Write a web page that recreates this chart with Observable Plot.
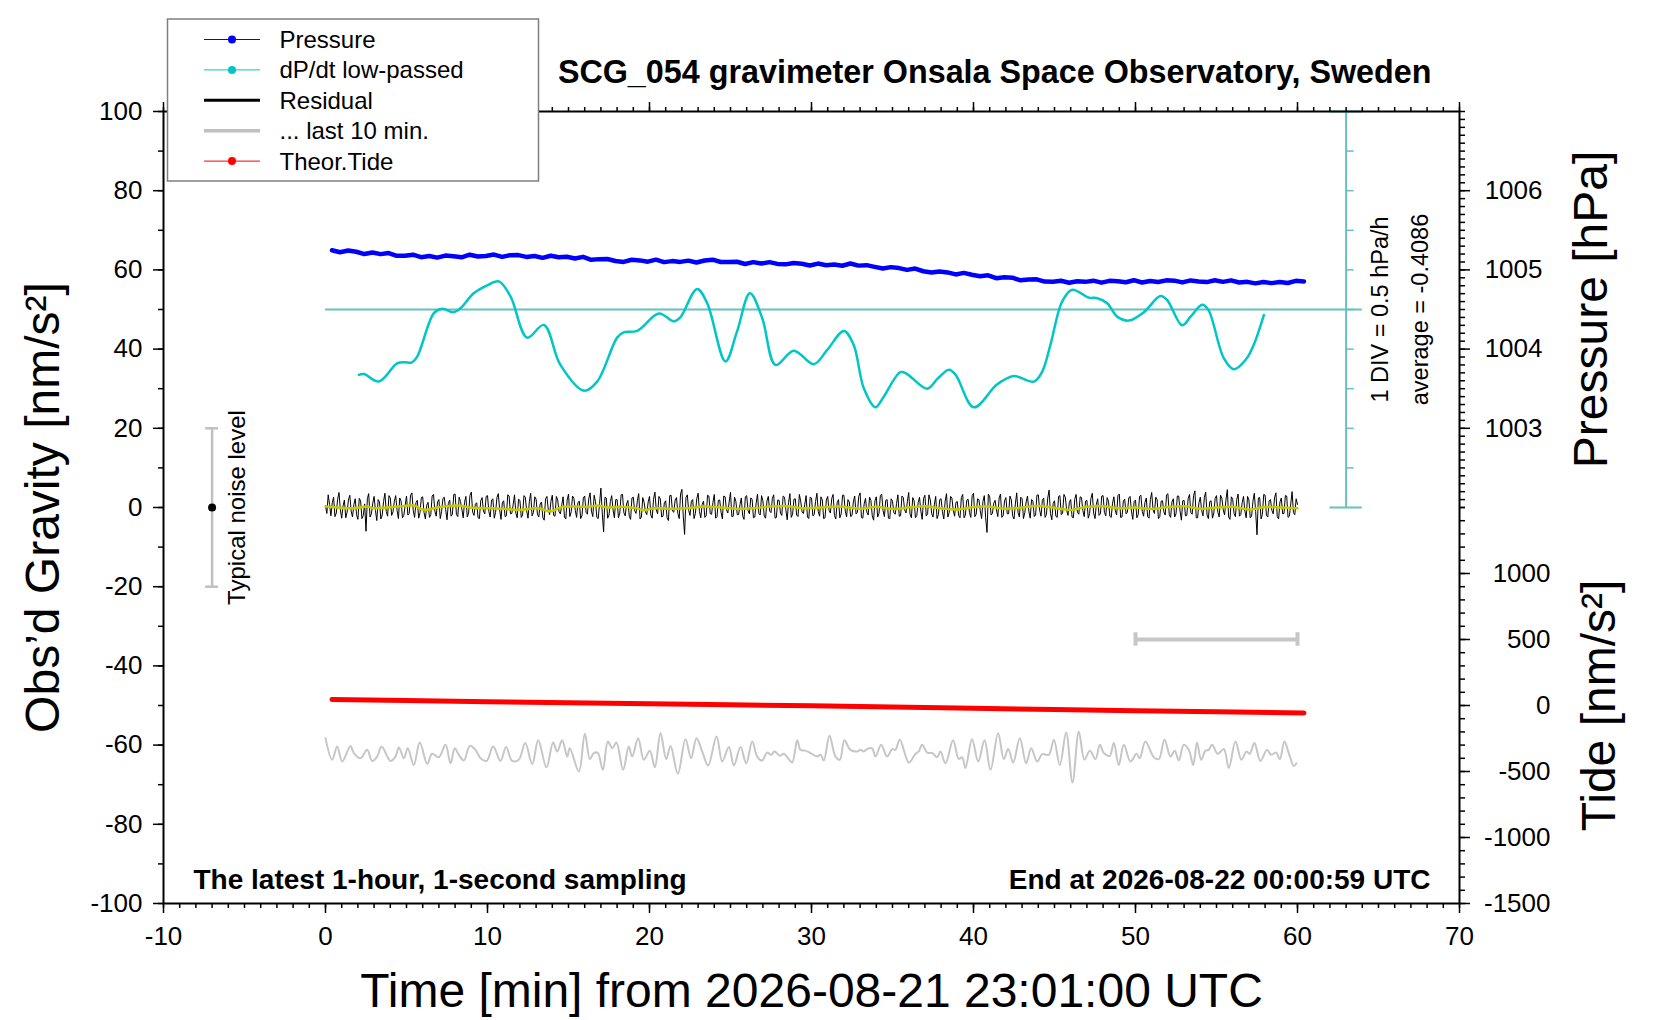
<!DOCTYPE html>
<html><head><meta charset="utf-8">
<script src="https://cdn.jsdelivr.net/npm/d3@7"></script>
<script src="https://cdn.jsdelivr.net/npm/@observablehq/plot@0.6"></script>
<style>
html,body{margin:0;padding:0;background:#fff;}
#chart{position:relative;width:1660px;height:1020px;}
</style></head><body><div id="chart"></div>
<script>
// ---------------- DATA ----------------
const titleText = "SCG_054 gravimeter Onsala Space Observatory, Sweden";
const xLabel = "Time [min] from 2026-08-21 23:01:00 UTC";
const yLabel = "Obs\u2019d Gravity [nm/s\u00B2]";
const pressureLabel = "Pressure [hPa]";
const tideLabel = "Tide [nm/s\u00B2]";
const noteLeft = "The latest 1-hour, 1-second sampling";
const noteRight = "End at 2026-08-22 00:00:59 UTC";
const divText = "1 DIV = 0.5 hPa/h";
const dpdtAverage = -0.4086;
const noiseText = "Typical noise level";

const xMajorTicks = [-10, 0, 10, 20, 30, 40, 50, 60, 70];
const yMajorTicks = [-100, -80, -60, -40, -20, 0, 20, 40, 60, 80, 100];
const pressureTicks = [1003, 1004, 1005, 1006];
const tideTicks = [-1500, -1000, -500, 0, 500, 1000];

// Pressure [hPa], every 0.5 min starting at 0.4 min
const pressureStart = 0.4, pressureStep = 0.5;
const pressureHPa = [
1005.248,1005.223,1005.245,1005.229,1005.200,1005.220,1005.199,1005.213,1005.178,1005.179,
1005.192,1005.161,1005.175,1005.155,1005.181,1005.172,1005.159,1005.192,1005.169,1005.176,
1005.194,1005.164,1005.186,1005.187,1005.164,1005.176,1005.152,1005.178,1005.159,1005.166,
1005.144,1005.165,1005.128,1005.136,1005.138,1005.113,1005.101,1005.128,1005.120,1005.104,
1005.129,1005.098,1005.111,1005.101,1005.117,1005.094,1005.119,1005.129,1005.100,1005.099,
1005.103,1005.075,1005.098,1005.080,1005.098,1005.076,1005.070,1005.088,1005.078,1005.055,
1005.080,1005.059,1005.067,1005.052,1005.081,1005.054,1005.060,1005.038,1005.018,1005.035,
1005.023,1005.000,1005.017,1004.983,1004.966,1004.981,1004.968,1004.943,1004.962,1004.938,
1004.921,1004.932,1004.895,1004.906,1004.902,1004.868,1004.880,1004.881,1004.852,1004.850,
1004.863,1004.838,1004.857,1004.849,1004.864,1004.839,1004.862,1004.856,1004.844,1004.870,
1004.841,1004.860,1004.848,1004.868,1004.864,1004.842,1004.867,1004.854,1004.846,1004.870,
1004.849,1004.868,1004.841,1004.849,1004.830,1004.848,1004.833,1004.847,1004.835,1004.862,
1004.855];

// dP/dt low-passed [hPa/h] : [minute, value]
const dpdtPts = [
[2.06,-0.825],[2.37,-0.815],[3.29,-0.91],[4.42,-0.68],[4.9,-0.665],[5.3,-0.67],[5.66,-0.595],
[6.69,-0.045],[7.2,0.01],[7.92,-0.035],[8.33,0.015],[9.15,0.205],[9.98,0.305],[10.7,0.355],
[11.42,0.165],[12.45,-0.355],[13.48,-0.195],[14.5,-0.70],[15.95,-1.025],[16.77,-0.91],
[18.0,-0.355],[18.4,-0.29],[19.24,-0.27],[20.58,-0.05],[21.5,-0.15],[21.9,-0.10],[22.94,0.26],
[23.56,0.08],[24.69,-0.655],[25.4,-0.28],[26.2,0.205],[26.96,-0.11],[27.78,-0.70],[28.9,-0.52],
[30.14,-0.69],[30.97,-0.51],[32.0,-0.27],[32.6,-0.445],[33.23,-0.995],[33.95,-1.235],[34.4,-1.12],
[35.49,-0.79],[35.9,-0.815],[37.14,-1.0],[37.8,-0.87],[38.48,-0.76],[38.9,-0.825],[40.02,-1.235],
[41.46,-0.945],[42.49,-0.84],[43.72,-0.91],[44.24,-0.785],[44.75,-0.445],[45.47,0.10],[46.09,0.25],
[47.12,0.15],[47.6,0.145],[48.25,0.08],[48.87,-0.09],[49.59,-0.14],[50.51,-0.035],[51.54,0.17],
[51.95,0.12],[52.88,-0.20],[53.4,-0.09],[54.12,0.06],[54.5,-0.005],[55.45,-0.615],[56.07,-0.755],
[56.8,-0.635],[57.3,-0.445],[57.92,-0.07]];

// Residual [nm/s^2]: samples on the full 10-s marks (0 ... 60 min)
const residualStepSec = 10;
const residual = [
0.5,3.2,-2.1,2.6,-1.4,3.8,-2.7,1.9,-1.2,3.1,-2.4,2.2,
-3.0,1.7,-2.0,-6.0,3.5,-1.6,2.8,-3.3,1.4,-1.9,3.6,-2.2,
2.4,-1.1,3.0,-2.8,1.6,-2.0,2.9,-1.5,3.7,-2.5,1.8,-1.3,
2.7,-2.9,1.3,-1.8,3.3,-2.2,2.0,-1.0,2.6,-3.1,1.9,-1.7,
3.4,-2.3,1.5,-2.6,2.8,-1.4,3.9,-2.0,1.2,-2.8,2.5,-1.6,
3.0,-2.4,2.2,-1.2,3.5,-3.0,1.7,-2.1,2.9,-1.5,3.2,-2.6,
1.8,-1.9,2.6,-2.7,3.6,-1.3,2.1,-2.4,1.4,-3.2,2.8,-1.8,
3.1,-2.2,1.9,-1.6,2.7,-2.9,3.4,-1.1,2.3,-2.5,1.6,-2.0,
2.9,-1.7,3.7,-2.3,1.5,-2.8,4.9,-6.2,2.4,-1.9,3.0,-2.6,
2.0,-1.4,3.3,-2.1,1.8,-3.0,2.6,-1.5,3.5,-2.4,1.3,-1.8,
2.8,-2.7,3.9,-1.6,2.2,-2.2,1.7,-3.3,3.1,-1.2,2.5,-2.8,
4.6,-6.8,3.2,-2.0,2.0,-1.5,3.6,-2.6,1.6,-2.1,2.9,-1.7,
3.3,-2.3,1.9,-2.9,2.7,-1.4,3.8,-2.2,1.5,-1.8,2.4,-3.0,
3.0,-1.6,2.1,-2.4,3.4,-1.9,1.7,-2.7,2.8,-1.3,3.2,-2.5,
1.8,-2.0,2.6,-3.1,3.5,-1.7,2.2,-2.3,1.6,-1.5,3.0,-2.8,
2.4,-1.8,3.6,-2.2,1.9,-2.6,2.8,-1.4,3.3,-2.9,2.0,-1.6,
3.1,-2.4,1.4,-2.0,2.9,-1.2,3.7,-2.7,2.3,-1.9,1.8,-3.2,
2.7,-1.5,3.4,-2.3,2.0,-2.8,1.6,-1.7,3.2,-2.1,2.5,-1.4,
3.8,-2.6,1.7,-2.0,2.6,-3.0,3.1,-1.6,1.9,-2.4,2.8,-1.8,
2.2,-2.9,3.5,-1.3,2.4,-2.2,1.5,-2.6,3.3,-1.9,2.1,-2.5,
3.6,-1.7,2.0,-2.8,3.0,-6.3,2.7,-1.5,1.8,-2.3,3.4,-2.0,
2.5,-1.6,1.9,-2.9,3.7,-2.4,2.2,-1.3,2.9,-2.7,1.6,-1.9,
3.2,-2.2,2.4,-1.8,4.4,-3.1,1.7,-2.5,3.0,-1.4,2.6,-2.0,
2.0,-2.6,3.3,-1.7,2.5,-2.3,1.8,-1.5,3.6,-2.8,2.2,-1.6,
3.0,-2.1,1.6,-2.5,2.7,-1.9,3.4,-2.4,2.1,-1.2,2.8,-3.0,
1.9,-1.8,3.1,-2.2,2.4,-2.7,3.8,-1.5,2.0,-2.3,1.7,-1.9,
3.5,-2.5,2.2,-1.6,2.9,-3.2,1.8,-2.0,3.3,-1.7,4.2,-2.6,
2.6,-2.1,3.9,-2.8,1.7,-1.4,3.0,-2.4,2.3,-1.9,4.5,-3.0,
2.1,-2.3,3.4,-1.8,2.8,-2.6,1.9,-2.2,3.6,-6.9,2.5,-1.7,
3.1,-2.4,2.0,-1.6,3.7,-2.9,2.4,-1.5,2.9,-2.2,4.0,-1.8,
0.8];
// Residual [nm/s^2]: samples on the 5-s half marks (5 s, 15 s, ...)
const residualHalf = [
-1.5,0.8,1.2,-2.3,2.1,-0.6,0.4,-2.6,1.9,-0.9,0.7,-1.8,
2.3,-2.8,0.9,2.2,-2.4,1.1,-0.8,2.0,-2.9,1.5,-1.0,3.0,
-2.0,1.6,-0.7,2.4,-2.6,0.5,-1.9,3.1,-0.8,1.2,-2.7,2.5,
-1.3,0.6,-2.5,2.9,-0.9,1.4,-2.8,2.3,-0.5,1.0,-2.2,3.3,
-1.8,2.6,-0.4,1.3,-2.4,3.0,-1.2,0.8,-2.6,1.7,-0.9,2.8,
-1.0,1.9,-2.7,2.5,-0.6,1.2,-2.3,3.2,-1.6,0.7,-1.4,2.1,
-2.5,3.0,-0.8,1.5,-2.1,2.7,-1.7,0.9,-2.6,2.2,-0.5,1.6,
-2.0,2.8,-1.1,0.6,-2.4,1.8,-2.3,2.9,-0.7,1.3,-2.8,2.4,
-1.2,2.2,-0.9,3.1,-2.5,1.0,-1.4,2.6,-2.7,1.5,-0.6,2.0,
-2.6,3.2,-1.3,0.9,-2.2,2.4,-0.8,1.7,-2.9,2.5,-1.1,1.4,
-1.9,2.1,-0.6,2.8,-2.4,1.2,-2.6,3.0,-0.9,1.9,-1.5,3.4,
-2.2,2.5,-0.7,1.6,-2.8,2.2,-1.0,0.8,-2.5,3.1,-1.6,1.3,
-2.7,1.8,-1.2,2.9,-0.5,1.4,-2.3,2.6,-1.8,0.7,-2.1,2.7,
-0.8,2.4,-2.6,1.1,-1.5,3.0,-2.2,1.6,-0.9,2.3,-2.7,1.9,
-1.4,2.9,-0.6,1.3,-2.5,2.1,-1.9,3.3,-1.1,0.8,-2.4,2.6,
-2.1,1.5,-1.0,2.7,-2.8,1.9,-0.7,2.3,-2.0,1.2,-2.6,3.1,
-0.9,2.0,-2.3,1.4,-1.6,2.8,-2.5,0.9,-1.2,2.6,-2.1,1.7,
-2.4,3.0,-0.8,1.8,-2.7,2.2,-1.3,1.0,-2.2,2.9,-0.6,1.5,
-1.7,2.5,-2.6,1.2,-0.9,2.3,-2.1,3.2,-1.5,0.7,-2.8,2.0,
-1.1,1.6,-2.4,2.8,-0.7,1.3,-2.0,2.5,-2.6,1.8,-1.2,3.0,
-2.3,2.2,-0.8,1.5,-2.6,3.4,-1.9,1.1,-0.6,2.4,-2.5,1.7,
-1.6,2.9,-2.1,0.9,-1.3,2.6,-2.8,1.4,-0.9,2.0,-2.3,3.1,
-0.7,1.8,-2.5,2.4,-1.5,1.0,-2.2,2.8,-1.8,3.3,-0.6,1.3,
-2.4,2.1,-1.2,2.7,-0.8,1.6,-2.7,2.3,-1.4,0.8,-2.0,2.9,
-1.3,2.5,-2.2,1.1,-0.7,3.0,-2.5,1.7,-1.6,2.4,-0.9,1.5,
-2.6,2.8,-1.0,1.3,-2.3,2.0,-0.6,2.6,-2.8,1.6,-1.1,3.2,
-1.8,1.4,-2.4,2.9,-0.9,1.7,-2.1,2.2,-1.3,3.0,-2.6,1.2,
-0.8,2.6,-1.9,1.5,-2.7,2.3,-1.2,3.1,-0.6,1.9,-2.4,2.7,
-1.5,2.0,-2.2,1.2,-0.9,2.8,-2.6,1.6,-1.0,2.4,-2.9,3.3,
-2.0,1.7,-0.7,2.5,-2.3,1.4,-1.6,3.0,-2.5,0.9,-1.3,2.2];

// Low-passed residual [nm/s^2] : [minute, value]
const residualSmooth = [
[0,0.25],[0.72,0],[1.75,-0.17],[2.57,0.25],[2.98,-0.17],[3.8,0],[4.8,0.33],[5.45,0.5],[6.07,-0.59],
[6.9,0],[8.1,0.5],[8.95,0],[10.0,-0.17],[11.0,-0.34],[12.0,-0.59],[13.1,-0.17],[13.9,-1.0],[14.5,0],
[15.3,0.25],[16.2,0.17],[16.8,0.5],[17.4,0],[18.2,0.17],[19.2,-0.17],[19.65,-0.67],[20.3,-0.17],
[21.3,-0.34],[22.3,-0.17],[23.4,0.25],[24.4,0],[25.4,-0.34],[26.4,-0.17],[27.5,0.25],[28.5,0.33],
[29.5,-0.17],[30.6,0],[31.7,0.25],[33,-0.3],[34,0.2],[35,-0.4],[36,0],[37,0.3],[38,-0.2],[39,-0.5],
[40,0.1],[41,0.2],[42,-0.3],[43,0],[44,0.4],[45,-0.1],[46,-0.6],[47,0.2],[48,0.3],[49,-0.2],[50,0],
[51,-0.4],[52,0.1],[53,0.3],[54,-0.3],[55,0],[56,0.2],[57,-0.5],[58,0.1],[59,0],[60,-0.2]];

// Residual of the last 10 minutes [nm/s^2] : [second within last 10 min, value]
const last10 = [
[0,3.75],[4.1,-1.7],[7.2,1.65],[10.3,-2.15],[15.4,1.8],[17.5,0.0],[21.6,-1.3],[25.7,0.8],[28.8,-2.0],
[31.9,-0.9],[34.6,1.65],[40.1,-2.0],[43.2,-0.9],[45.3,1.4],[48.4,-1.3],[50.8,1.2],[54.5,-3.0],[58.2,2.65],
[62.8,-2.75],[65.8,-0.2],[70.0,-1.05],[74.1,2.1],[77.2,-2.6],[79.8,1.2],[82.3,-0.45],[85.4,-1.9],
[89.1,1.8],[92.6,0.8],[95.7,-1.3],[99.4,-2.0],[103.5,1.65],[108.0,-2.0],[111.5,1.5],[115.2,-2.0],
[119.3,-1.7],[123.3,2.5],[127.6,-2.8],[131.3,3.2],[136.4,-3.6],[140.5,2.65],[143.0,0.4],[146.1,3.2],
[149.2,-0.9],[150.8,1.2],[156.4,-4.65],[160.1,4.85],[163.2,-1.55],[165.6,0.0],[168.1,0.0],[171.2,-4.25],
[174.3,2.9],[177.0,1.2],[179.6,2.65],[183.7,-4.25],[187.2,1.65],[189.3,-0.9],[193.0,3.75],[196.5,-1.7],
[200.2,0.6],[203.3,-3.6],[206.8,5.0],[210.3,-1.55],[213.0,1.8],[217.5,-5.25],[222.2,3.5],[225.7,-1.3],
[229.0,3.75],[232.5,0.4],[236.2,-3.15],[241.4,4.2],[244.9,-2.15],[249.0,1.5],[252.1,-3.15],[256.2,1.5],
[259.7,-2.6],[263.4,2.9],[266.5,-0.9],[269.5,-1.9],[272.6,0.1],[275.1,-0.45],[277.2,0.4],[280.5,-0.7],
[282.9,-0.2],[286.0,-1.55],[288.1,-2.4],[291.2,3.2],[293.2,0.8],[296.3,0.6],[299.4,0.0],[303.5,-0.9],
[305.6,-0.45],[307.6,-1.9],[311.1,4.35],[314.8,-0.9],[317.5,-1.7],[320.3,3.2],[324.0,0.8],[328.2,0.4],
[330.2,0.8],[332.3,0.4],[334.3,1.0],[337.4,1.2],[339.5,-0.9],[343.0,2.1],[346.7,-0.9],[349.8,1.0],
[351.8,0.8],[354.5,3.35],[360.1,-2.4],[364.2,-0.2],[366.2,0.4],[368.3,2.1],[371.4,0.1],[374.5,0.0],
[377.5,-1.05],[379.6,0.4],[382.7,-2.6],[387.4,3.2],[390.9,-1.5],[393.0,-1.05],[395.0,-3.8],[399.1,3.5],
[402.9,-2.15],[406.8,3.2],[410.5,-4.25],[415.2,5.0],[418.7,-1.55],[421.4,1.0],[424.5,-2.4],[428.6,3.75],
[432.5,-2.6],[435.6,1.2],[439.3,-2.15],[442.4,-0.3],[446.5,-0.45],[449.6,3.35],[453.3,-3.0],[457.2,5.2],
[461.1,-7.45],[465.0,5.4],[468.5,-1.7],[471.8,0.6],[475.3,-1.55],[478.0,2.1],[480.4,0.0],[484.1,-0.7],
[486.6,2.5],[489.7,-3.0],[492.8,2.1],[496.9,-2.15],[500.6,-0.2],[502.6,-1.3],[506.1,2.9],[511.3,-1.05],
[514.4,-1.55],[517.9,3.35],[521.6,-0.9],[524.2,0.6],[526.7,-1.9],[529.8,2.1],[532.9,0.8],[535.6,-3.0],
[538.0,2.65],[540.5,-1.7],[543.2,0.6],[545.2,0.8],[547.3,2.1],[550.8,-0.2],[554.5,1.0],[557.6,-3.8],
[561.7,2.9],[565.4,-1.7],[568.5,0.4],[570.5,-0.2],[573.4,2.5],[577.1,-2.0],[581.2,0.8],[583.7,-0.45],
[586.8,0.1],[589.1,-1.55],[591.9,2.9],[594.6,0.0],[597.7,-3.25],[599.3,-2.6]];
const last10Window = [50, 60];   // minutes of the window shown stretched
const last10Offset = -62;        // plotted level on the gravity axis
const last10MarkerTide = 500;    // level of the window marker [nm/s^2 on tide axis]

// Theoretical tide [nm/s^2] : [minute, value]
const tidePts = [[0.4,45],[5,37],[10,29],[15,21],[20,13],[25,5],[30,-2],[35,-11],[40,-21],[45,-31],[50,-40],[55,-48],[60.4,-57]];

// Typical noise level [nm/s^2]
const noiseX = -7, noiseLevel = 20;

// ---------------- CONVERSIONS ----------------
const FONT = "'Liberation Sans', Arial, Helvetica, sans-serif";
const TEAL = "#66c2bb", CYAN = "#00c6c6";
const pToG = p => (p - 1002) * 20;          // 1 hPa = 20 units
const rateToG = r => 50 + r * 20;           // 1 DIV(10 units) = 0.5 hPa/h
const tideToG = t => -50 + t / 30;          // tide axis
const secToMin = s => s / 10;               // last 10 min stretched over 60 min

const pressureData = pressureHPa.map((p, i) => ({t: pressureStart + i * pressureStep, g: pToG(p)}));
const dpdtData = dpdtPts.map(([t, r]) => ({t, g: rateToG(r)}));
const residData = [];
residual.forEach((v, i) => {
  residData.push({t: i * residualStepSec / 60, g: v});
  if (i < residualHalf.length) residData.push({t: (i * residualStepSec + residualStepSec / 2) / 60, g: residualHalf[i]});
});
const smoothData = residualSmooth.map(([t, v]) => ({t, g: v}));
const last10Data = last10.map(([s, v]) => ({t: secToMin(s), g: last10Offset + v}));
const tideData = tidePts.map(([t, v]) => ({t, g: tideToG(v)}));

const axisCommon = {label: null, fontSize: 26, strokeWidth: 1.5};

const plot = Plot.plot({
  width: 1660, height: 1020,
  marginLeft: 163, marginRight: 201, marginTop: 111, marginBottom: 117,
  x: {domain: [-10, 70], label: null},
  y: {domain: [-100, 100], label: null},
  style: {fontFamily: FONT, fontSize: "26px", background: "#fff", color: "#000", overflow: "visible"},
  marks: [
    // dP/dt reference line and scale bar
    Plot.ruleY([50], {x1: 0, x2: 64, stroke: TEAL, strokeWidth: 2}),
    Plot.ruleX([63], {y1: 0, y2: 100, stroke: TEAL, strokeWidth: 2}),
    Plot.ruleY(d3.range(10, 100, 10), {x1: 63, x2: 63.5, stroke: TEAL, strokeWidth: 1.5}),
    Plot.ruleY([0, 100], {x1: 62, x2: 64, stroke: TEAL, strokeWidth: 2}),
    // series
    Plot.line(pressureData, {x: "t", y: "g", stroke: "#0000ff", strokeWidth: 4.5}),
    Plot.line(dpdtData, {x: "t", y: "g", stroke: CYAN, strokeWidth: 2.5, curve: "catmull-rom"}),
    Plot.line(residData, {x: "t", y: "g", stroke: "#000", strokeWidth: 1}),
    Plot.line(smoothData, {x: "t", y: "g", stroke: "#c8c800", strokeWidth: 2.5, curve: "catmull-rom"}),
    Plot.line(tideData, {x: "t", y: "g", stroke: "#ff0000", strokeWidth: 5}),
    Plot.line(last10Data, {x: "t", y: "g", stroke: "#c6c6c6", strokeWidth: 2, curve: "catmull-rom"}),
    // last-10-min window marker
    Plot.ruleY([tideToG(last10MarkerTide)], {x1: last10Window[0], x2: last10Window[1], stroke: "#c6c6c6", strokeWidth: 4}),
    Plot.ruleX(last10Window, {y1: tideToG(last10MarkerTide) - 1.7, y2: tideToG(last10MarkerTide) + 1.7, stroke: "#c6c6c6", strokeWidth: 4}),
    // typical noise level
    Plot.ruleX([noiseX], {y1: -noiseLevel, y2: noiseLevel, stroke: "#c0c0c0", strokeWidth: 2.5}),
    Plot.ruleY([-noiseLevel, noiseLevel], {x1: noiseX - 0.4, x2: noiseX + 0.4, stroke: "#c0c0c0", strokeWidth: 2.5}),
    Plot.dot([0], {x: noiseX, y: d => d, r: 4, fill: "#000", stroke: "none"}),
    Plot.text([noiseText], {x: -5.45, y: 0, rotate: -90, fontSize: 24}),
    // dP/dt annotations
    Plot.text([divText], {x: 65.1, y: 50, rotate: -90, fontSize: 23.5}),
    Plot.text(["average = " + dpdtAverage], {x: 67.6, y: 50, rotate: -90, fontSize: 23.5}),
    // frame & axes
    Plot.frame({stroke: "#000", strokeWidth: 2}),
    Plot.axisX({...axisCommon, anchor: "bottom", ticks: xMajorTicks, tickSize: 10, tickPadding: 13, tickFormat: d => String(d)}),
    Plot.axisX({...axisCommon, anchor: "bottom", ticks: d3.range(-10, 71, 1), tickSize: 5, tickFormat: () => ""}),
    Plot.axisX({...axisCommon, anchor: "top", ticks: xMajorTicks, tickSize: 10, tickFormat: () => ""}),
    Plot.axisX({...axisCommon, anchor: "top", ticks: d3.range(-10, 71, 1), tickSize: 5, tickFormat: () => ""}),
    Plot.axisY({...axisCommon, anchor: "left", ticks: yMajorTicks, tickSize: 10, tickPadding: 11, tickFormat: d => String(d)}),
    Plot.axisY({...axisCommon, anchor: "left", ticks: d3.range(-100, 101, 10), tickSize: 5, tickFormat: () => ""}),
    Plot.axisY({...axisCommon, anchor: "right", ticks: pressureTicks.map(pToG), tickSize: 10, tickPadding: 73, textAnchor: "end",
      tickFormat: g => String(Math.round(1002 + g / 20))}),
    Plot.axisY({...axisCommon, anchor: "right", ticks: d3.range(0, 101, 2), tickSize: 5, tickFormat: () => ""}),
    Plot.axisY({...axisCommon, anchor: "right", ticks: tideTicks.map(tideToG), tickSize: 10, tickPadding: 81, textAnchor: "end",
      tickFormat: g => String(Math.round((g + 50) * 30))}),
    Plot.axisY({...axisCommon, anchor: "right", ticks: d3.range(-1500, 1501, 100).map(tideToG), tickSize: 5, tickFormat: () => ""}),
    // axis titles
    Plot.text([xLabel], {x: 30, y: -100, dy: 103, lineAnchor: "bottom", fontSize: 48}),
    Plot.text([yLabel], {x: -10, y: 0, dx: -120, rotate: -90, fontSize: 48}),
    Plot.text([pressureLabel], {x: 70, y: 50, dx: 132, rotate: -90, fontSize: 48}),
    Plot.text([tideLabel], {x: 70, y: -50, dx: 140, rotate: -90, fontSize: 48}),
    // title & notes
    Plot.text([titleText], {x: 70, y: 100, dx: -28, dy: -29, textAnchor: "end", lineAnchor: "bottom", fontSize: 32.3, fontWeight: "bold"}),
    Plot.text([noteLeft], {x: -10, y: -100, dx: 30, dy: -15, textAnchor: "start", lineAnchor: "bottom", fontSize: 28, fontWeight: "bold"}),
    Plot.text([noteRight], {x: 70, y: -100, dx: -29, dy: -15, textAnchor: "end", lineAnchor: "bottom", fontSize: 28, fontWeight: "bold"})
  ]
});

document.getElementById("chart").appendChild(plot);

// ---------------- LEGEND ----------------
const legendRows = [
  {label: "Pressure", color: "#0000ff", width: 1, dot: true},
  {label: "dP/dt low-passed", color: CYAN, width: 1, dot: true},
  {label: "Residual", color: "#000000", width: 3, dot: false},
  {label: "... last 10 min.", color: "#c0c0c0", width: 3.5, dot: false},
  {label: "Theor.Tide", color: "#ff0000", width: 1, dot: true}
];
const svg = d3.select(plot);
const lg = svg.append("g").attr("font-family", FONT).attr("font-size", 24).attr("text-anchor", "start");
lg.append("rect").attr("x", 167.5).attr("y", 19).attr("width", 371).attr("height", 162)
  .attr("fill", "#fff").attr("stroke", "#7f7f7f").attr("stroke-width", 1.5);
legendRows.forEach((r, i) => {
  const cy = 39.5 + i * 30.4;
  lg.append("line").attr("x1", 204).attr("x2", 260).attr("y1", cy).attr("y2", cy)
    .attr("stroke", r.color).attr("stroke-width", r.width);
  if (r.dot) lg.append("circle").attr("cx", 232).attr("cy", cy).attr("r", 4).attr("fill", r.color);
  lg.append("text").attr("x", 279.5).attr("y", cy).attr("dy", "0.35em").attr("fill", "#000")
    .attr("text-anchor", "start").text(r.label);
});
</script>
</body></html>
